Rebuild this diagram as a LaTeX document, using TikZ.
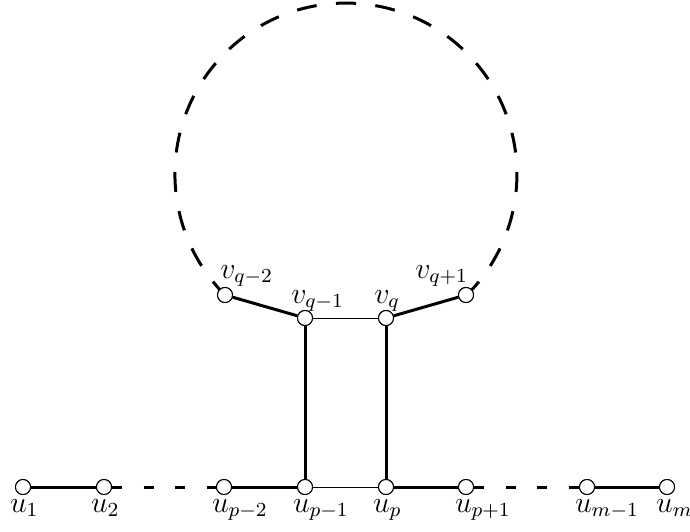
\documentclass[tikz,border=0pt,12pt]{standalone}
\usepackage{mathtools}
\begin{document}
\begin{tikzpicture}[x=0.4pt,y=-0.4pt,
  vert/.style={circle,draw,fill=white,line width=0.4pt,inner sep=0pt,minimum size=6pt},
  thickedge/.style={line width=1.2pt},
  thinedge/.style={line width=0.4pt},
  gapedge/.style={line width=1.2pt,dash pattern=on 4pt off 8.6pt},
  circedge/.style={line width=1.2pt,dash pattern=on 8pt off 7.8pt,dash phase=0.8pt},
  lab/.style={anchor=base,inner sep=0pt}]
\useasboundingbox (0,0) rectangle (690,531);
% vertices
\node[vert] (u1) at (23,487) {};
\node[vert] (u2) at (104,487) {};
\node[vert] (up2) at (224,487) {};
\node[vert] (up1) at (305,487) {};
\node[vert] (up) at (386,487) {};
\node[vert] (upp1) at (466,487) {};
\node[vert] (um1) at (587,487) {};
\node[vert] (um) at (667,487) {};
\node[vert] (vq2) at (225,295) {};
\node[vert] (vq1) at (305,318) {};
\node[vert] (vq) at (386,318) {};
\node[vert] (vqp1) at (466,295) {};
% edges
\draw[circedge] (vq2.center) arc[start angle=225,end angle=-45,radius=68.4pt];
\draw[thickedge] (u1) -- (u2);
\draw[gapedge] (u2) -- (up2);
\draw[thickedge] (up2) -- (up1);
\draw[thinedge] (up1) -- (up);
\draw[thickedge] (up) -- (upp1);
\draw[gapedge] (upp1) -- (um1);
\draw[thickedge] (um1) -- (um);
\draw[thickedge] (up1) -- (vq1);
\draw[thickedge] (up) -- (vq);
\draw[thinedge] (vq1) -- (vq);
\draw[thickedge] (vq2) -- (vq1);
\draw[thickedge] (vq) -- (vqp1);
% redraw vertices on top
\foreach \n in {u1,u2,up2,up1,up,upp1,um1,um,vq2,vq1,vq,vqp1}
  \node[vert] at (\n) {};
% labels
\node[lab] (lu1) at (19,512) {$u_{\mathrlap{1}}$};
\node[lab] (lu2) at (100,512) {$u_{\mathrlap{2}}$};
\node[lab] (lup2) at (221,512) {$u_{\mathrlap{p-2}}$};
\node[lab] (lup1) at (302,512) {$u_{\mathrlap{p-1}}$};
\node[lab] (lup) at (382,512) {$u_{\mathrlap{p}}$};
\node[lab] (lupp1) at (464,512) {$u_{\mathrlap{p+1}}$};
\node[lab] (lum1) at (584,512) {$u_{\mathrlap{m-1}}$};
\node[lab] (lum) at (665,512) {$u_{\mathrlap{m}}$};
\node[lab] (lvq2) at (228,278) {$v_{\mathrlap{q-2}}$};
\node[lab] (lvq1) at (299,303) {$v_{\mathrlap{q-1}}$};
\node[lab] (lvq) at (382,303) {$v_{\mathrlap{q}}$};
\node[lab] (lvqp1) at (423,278) {$v_{\mathrlap{q+1}}$};
\end{tikzpicture}
\end{document}
